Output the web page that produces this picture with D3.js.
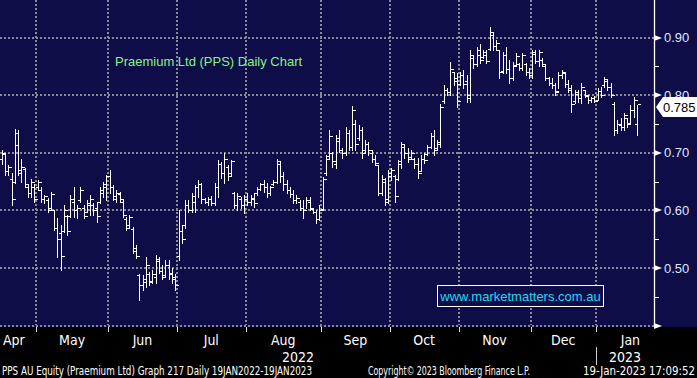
<!DOCTYPE html>
<html>
<head>
<meta charset="utf-8">
<script src="https://cdn.jsdelivr.net/npm/d3@7"></script>
<style>
html, body { margin: 0; padding: 0; background: #000; }
svg { display: block; }
</style>
</head>
<body>
<svg id="chart" width="697" height="378"></svg>
<script>
// trading calendar shown on the chart (ASX, weekends + holidays removed)
const firstDay = "2022-04-11";
const lastDay = "2023-01-19";
const holidays = ["2022-04-15", "2022-04-18", "2022-04-25", "2022-06-13",
                  "2022-09-22", "2022-12-26", "2022-12-27", "2023-01-02"];

// daily OHLC, one entry per trading day
const highs = [
  .705,.705,.700,.679,.665,.742,.740,.690,.674,.644,
  .655,.645,.653,.640,.627,.622,.632,.601,.587,.575,
  .610,.592,.627,.640,.610,.640,.610,.618,.627,.613,
  .615,.640,.650,.662,.670,.644,.636,.632,.618,.589,
  .592,.571,.540,.490,.488,.519,.493,.496,.523,.519,
  .505,.514,.514,.500,.490,.601,.575,.618,.618,.630,
  .644,.653,.648,.622,.624,.625,.648,.688,.684,.700,
  .679,.688,.632,.630,.624,.627,.630,.627,.630,.640,
  .648,.653,.648,.643,.653,.690,.684,.667,.653,.640,
  .636,.627,.618,.618,.624,.624,.604,.601,.610,.658,
  .696,.740,.701,.731,.740,.709,.744,.740,.782,.757,
  .749,.744,.722,.719,.705,.696,.679,.662,.656,.670,
  .674,.662,.688,.719,.714,.709,.705,.691,.691,.696,
  .700,.714,.735,.740,.722,.785,.818,.813,.858,.840,
  .839,.840,.844,.835,.879,.870,.884,.889,.879,.879,
  .919,.909,.896,.879,.875,.884,.862,.858,.874,.856,
  .874,.856,.848,.879,.879,.879,.865,.853,.832,.830,
  .822,.840,.844,.839,.826,.818,.810,.810,.822,.810,
  .800,.797,.799,.813,.815,.832,.826,.822,.788,.757,
  .761,.770,.761,.783,.797,.783
];
const lows = [
  .676,.680,.662,.662,.610,.648,.662,.650,.640,.624,
  .624,.615,.636,.615,.613,.597,.601,.566,.519,.497,
  .563,.557,.589,.589,.587,.615,.587,.597,.592,.592,
  .580,.613,.624,.618,.630,.618,.615,.615,.589,.566,
  .570,.526,.517,.444,.462,.467,.470,.474,.474,.491,
  .480,.486,.480,.474,.462,.514,.543,.570,.597,.597,
  .597,.624,.613,.613,.610,.610,.610,.624,.656,.648,
  .653,.662,.604,.601,.604,.596,.610,.610,.606,.627,
  .636,.632,.624,.627,.644,.648,.650,.636,.630,.624,
  .613,.613,.601,.587,.604,.601,.596,.578,.583,.601,
  .662,.691,.676,.674,.701,.691,.696,.705,.705,.705,
  .722,.691,.701,.696,.684,.679,.627,.627,.610,.613,
  .653,.615,.653,.674,.691,.684,.691,.674,.656,.670,
  .683,.696,.709,.696,.705,.710,.787,.800,.800,.818,
  .780,.818,.813,.788,.788,.848,.850,.856,.865,.856,
  .879,.879,.879,.830,.839,.839,.822,.826,.850,.844,
  .844,.836,.830,.830,.856,.850,.850,.826,.818,.813,
  .800,.813,.830,.815,.805,.771,.787,.788,.787,.797,
  .787,.788,.788,.792,.797,.815,.810,.797,.731,.735,
  .740,.740,.744,.752,.762,.731
];
const opens = [
  .700,.690,.698,.668,.655,.650,.735,.670,.672,.640,
  .630,.640,.640,.635,.620,.618,.605,.600,.570,.560,
  .565,.590,.590,.615,.600,.618,.605,.598,.610,.610,
  .605,.615,.630,.640,.660,.640,.620,.628,.615,.585,
  .575,.568,.535,.488,.470,.475,.490,.478,.485,.512,
  .495,.488,.505,.492,.485,.520,.565,.575,.610,.600,
  .615,.640,.645,.620,.615,.620,.612,.640,.680,.665,
  .675,.665,.630,.610,.620,.610,.620,.615,.620,.630,
  .638,.645,.640,.630,.645,.650,.680,.660,.645,.635,
  .628,.618,.615,.605,.600,.615,.602,.598,.585,.602,
  .665,.695,.700,.680,.720,.705,.700,.735,.710,.750,
  .725,.740,.705,.715,.700,.690,.678,.630,.650,.620,
  .660,.660,.655,.680,.710,.700,.692,.690,.680,.668,
  .690,.698,.710,.730,.708,.715,.790,.810,.805,.840,
  .830,.820,.835,.825,.800,.865,.855,.870,.866,.870,
  .880,.905,.885,.878,.842,.870,.845,.830,.852,.855,
  .848,.855,.840,.835,.872,.860,.862,.850,.830,.822,
  .818,.808,.835,.838,.820,.812,.790,.802,.795,.810,
  .798,.792,.795,.792,.808,.818,.825,.815,.785,.740,
  .748,.745,.760,.752,.775,.750
];
const closes = [
  .690,.700,.668,.675,.620,.714,.665,.675,.645,.630,
  .650,.620,.650,.620,.625,.600,.628,.570,.550,.520,
  .600,.565,.620,.600,.605,.635,.590,.612,.620,.600,
  .590,.635,.645,.660,.640,.625,.630,.620,.592,.570,
  .588,.530,.520,.470,.480,.505,.475,.490,.515,.495,
  .485,.505,.490,.480,.470,.565,.550,.610,.600,.625,
  .640,.645,.620,.615,.620,.612,.640,.680,.665,.690,
  .660,.685,.610,.625,.610,.620,.615,.622,.612,.638,
  .645,.640,.630,.640,.650,.685,.660,.645,.635,.628,
  .618,.622,.605,.600,.618,.605,.598,.585,.600,.655,
  .690,.730,.685,.725,.705,.700,.735,.710,.775,.715,
  .740,.700,.715,.705,.690,.682,.630,.655,.615,.665,
  .670,.625,.685,.715,.700,.690,.700,.680,.665,.690,
  .688,.710,.730,.705,.718,.780,.810,.805,.845,.825,
  .790,.835,.820,.795,.870,.855,.878,.862,.875,.860,
  .910,.885,.890,.840,.870,.845,.830,.850,.868,.848,
  .870,.840,.835,.875,.860,.875,.855,.830,.822,.818,
  .805,.835,.840,.820,.810,.785,.805,.795,.815,.800,
  .792,.795,.790,.808,.800,.828,.815,.800,.740,.750,
  .745,.765,.750,.775,.792,.785
];

const yGridValues = [0.4, 0.5, 0.6, 0.7, 0.8, 0.9];
const yTickValues = [0.5, 0.6, 0.7, 0.8, 0.9];
const yMinorValues = [0.45, 0.55, 0.65, 0.75, 0.85];

const titleText = "Praemium Ltd (PPS) Daily Chart";
const siteText = "www.marketmatters.com.au";
const footerLeft = "PPS AU Equity (Praemium Ltd) Graph 217  Daily 19JAN2022-19JAN2023";
const footerMid = "Copyright\u00A9 2023 Bloomberg Finance L.P.";
const footerRight = "19-Jan-2023 17:09:52";

var navy = "#0f0d48";
var gridColor = "#8a8a94";
var plotW = 654, plotH = 326;

var parse = d3.utcParse("%Y-%m-%d"), fmtDay = d3.utcFormat("%Y-%m-%d");
var days = d3.utcDays(parse(firstDay), d3.utcDay.offset(parse(lastDay), 1))
    .filter(function(d) { return d.getUTCDay() % 6 !== 0 && holidays.indexOf(fmtDay(d)) < 0; });

var svg = d3.select("#chart");
svg.append("rect").attr("width", 697).attr("height", 378).attr("fill", "#000");
svg.append("rect").attr("width", 697).attr("height", plotH + 1).attr("fill", navy);

var x = d3.scaleLinear()
    .domain([-0.5, days.length - 0.5])
    .range([-3.2, 638.6]);
var y = d3.scaleLinear()
    .domain([0.4, 0.9])
    .range([325.5, 37.7]);

function px(v) { return Math.round(v) + 0.5; }

// month boundaries
var bounds = [];
days.forEach(function(d, i) {
    if (i > 0 && d.getUTCMonth() !== days[i - 1].getUTCMonth()) bounds.push(i);
});

// dotted grid
var grid = svg.append("g").attr("shape-rendering", "crispEdges");
grid.selectAll("line.h").data(yGridValues).join("line")
    .attr("x1", 0).attr("x2", plotW)
    .attr("y1", function(d) { return Math.round(y(d)); })
    .attr("y2", function(d) { return Math.round(y(d)); })
    .attr("stroke", gridColor).attr("stroke-width", 2)
    .attr("stroke-dasharray", "2,2");
grid.selectAll("line.v").data(bounds).join("line")
    .attr("x1", function(d) { return Math.round(x(d - 0.5)); })
    .attr("x2", function(d) { return Math.round(x(d - 0.5)); })
    .attr("y1", 0).attr("y2", plotH - 1)
    .attr("stroke", gridColor).attr("stroke-width", 2)
    .attr("stroke-dasharray", "2,2");

// title and site box
svg.append("text")
    .attr("x", 115).attr("y", 66)
    .attr("font-family", "Liberation Sans, Arial, sans-serif")
    .attr("font-size", 13).attr("fill", "#86f286")
    .text(titleText);

svg.append("rect")
    .attr("x", 437.5).attr("y", 285.5).attr("width", 166).attr("height", 21)
    .attr("fill", navy).attr("stroke", "#fff").attr("stroke-width", 1);
svg.append("text")
    .attr("x", 520.5).attr("y", 301)
    .attr("text-anchor", "middle")
    .attr("font-family", "Liberation Sans, Arial, sans-serif")
    .attr("font-size", 13).attr("fill", "#22d8f2")
    .text(siteText);

// OHLC bars
svg.append("clipPath").attr("id", "plotClip")
    .append("rect").attr("width", plotW).attr("height", plotH);
var bars = svg.append("g")
    .attr("clip-path", "url(#plotClip)")
    .attr("stroke", "#fff").attr("stroke-width", 1)
    .attr("shape-rendering", "crispEdges")
    .selectAll("g").data(d3.range(days.length)).join("g");

bars.append("line")
    .attr("x1", function(i) { return px(x(i)); })
    .attr("x2", function(i) { return px(x(i)); })
    .attr("y1", function(i) { return Math.round(y(highs[i])); })
    .attr("y2", function(i) { return Math.round(y(lows[i])) + 1; });
bars.append("line")
    .attr("x1", function(i) { return px(x(i)) - 3; })
    .attr("x2", function(i) { return px(x(i)); })
    .attr("y1", function(i) { return px(y(opens[i])); })
    .attr("y2", function(i) { return px(y(opens[i])); });
bars.append("line")
    .attr("x1", function(i) { return px(x(i)); })
    .attr("x2", function(i) { return px(x(i)) + 3; })
    .attr("y1", function(i) { return px(y(closes[i])); })
    .attr("y2", function(i) { return px(y(closes[i])); });

// right axis
var yAxis = d3.axisRight(y).tickValues(yTickValues).tickSize(0).tickPadding(10)
    .tickFormat(d3.format(".2f"));
var ya = svg.append("g").attr("transform", "translate(" + plotW + ",0)").call(yAxis);
ya.select(".domain").remove();
ya.selectAll("text")
    .attr("fill", "#dfe6ff")
    .attr("font-family", "Liberation Sans, Arial, sans-serif")
    .attr("font-size", 13);

svg.append("line")
    .attr("x1", px(plotW)).attr("x2", px(plotW))
    .attr("y1", 0).attr("y2", plotH)
    .attr("stroke", "#fff").attr("stroke-width", 1.3);

svg.selectAll("path.arrow").data(yGridValues).join("path")
    .attr("d", function(d) {
        var yy = Math.round(y(d));
        return "M" + plotW + "," + (yy - 3) + "L" + (plotW + 8) + "," + yy + "L" + plotW + "," + (yy + 3) + "Z";
    })
    .attr("fill", "#fff");

var yMinor = d3.axisRight(y).tickValues(yMinorValues).tickSize(5).tickFormat("");
var ym = svg.append("g").attr("transform", "translate(" + plotW + ",0)").call(yMinor);
ym.select(".domain").remove();
ym.selectAll("line").attr("stroke", "#fff").attr("shape-rendering", "crispEdges");

// last price tag (sits over the 0.80 label, as in the source chart)
var last = closes[closes.length - 1];
var ly = y(last) + 3;
svg.append("path")
    .attr("d", "M656," + ly + "L663," + (ly - 10) + "L697," + (ly - 10) + "L697," + (ly + 10) + "L663," + (ly + 10) + "Z")
    .attr("fill", "#fff");
svg.append("text")
    .attr("x", 663).attr("y", ly + 5)
    .attr("font-family", "Liberation Sans, Arial, sans-serif")
    .attr("font-size", 13).attr("fill", "#000")
    .text(d3.format(".3f")(last));

// time axis
var axisFont = "Liberation Sans Narrow, DejaVu Sans Condensed, sans-serif";
svg.selectAll("line.mtick").data(bounds).join("line")
    .attr("x1", function(d) { return px(x(d - 0.5)); })
    .attr("x2", function(d) { return px(x(d - 0.5)); })
    .attr("y1", plotH + 1).attr("y2", plotH + 6)
    .attr("stroke", "#ddd").attr("shape-rendering", "crispEdges");

var fmtMonth = d3.utcFormat("%b");
var monthStarts = [0].concat(bounds);
svg.selectAll("text.month").data(monthStarts).join("text")
    .attr("x", function(d, k) {
        if (k === 0) return 3;
        var end = k + 1 < monthStarts.length ? monthStarts[k + 1] : d + 21;
        return x((d + end) / 2 - 0.5);
    })
    .attr("text-anchor", function(d, k) { return k === 0 ? "start" : "middle"; })
    .attr("y", 345)
    .attr("font-family", axisFont).attr("font-size", 14).attr("fill", "#fff")
    .text(function(d) { return fmtMonth(days[d]); });

// year labels centred over the visible part of each year
var yearStart = bounds.filter(function(b) { return days[b].getUTCMonth() === 0; })[0];
var yearSpans = [
    { label: d3.utcFormat("%Y")(days[0]), x0: 0, x1: x(yearStart - 0.5) },
    { label: d3.utcFormat("%Y")(days[yearStart]), x0: x(yearStart - 0.5), x1: plotW }
];
svg.selectAll("text.year").data(yearSpans).join("text")
    .attr("x", function(d) { return (d.x0 + d.x1) / 2; })
    .attr("y", 362).attr("text-anchor", "middle")
    .attr("font-family", axisFont).attr("font-size", 14).attr("fill", "#fff")
    .text(function(d) { return d.label; });
svg.append("line")
    .attr("x1", px(x(yearStart - 0.5))).attr("x2", px(x(yearStart - 0.5)))
    .attr("y1", 347).attr("y2", 365)
    .attr("stroke", "#ccc").attr("shape-rendering", "crispEdges");

// footer
var foot = [
    { t: footerLeft, x: 2, anchor: "start", w: 310 },
    { t: footerMid, x: 368, anchor: "start", w: 162 },
    { t: footerRight, x: 695, anchor: "end", w: 112 }
];
svg.selectAll("text.foot").data(foot).join("text")
    .attr("x", function(d) { return d.x; }).attr("y", 375)
    .attr("text-anchor", function(d) { return d.anchor; })
    .attr("font-family", axisFont).attr("font-size", 11.5).attr("fill", "#fff")
    .attr("textLength", function(d) { return d.w; })
    .attr("lengthAdjust", "spacingAndGlyphs")
    .text(function(d) { return d.t; });
</script>
</body>
</html>
